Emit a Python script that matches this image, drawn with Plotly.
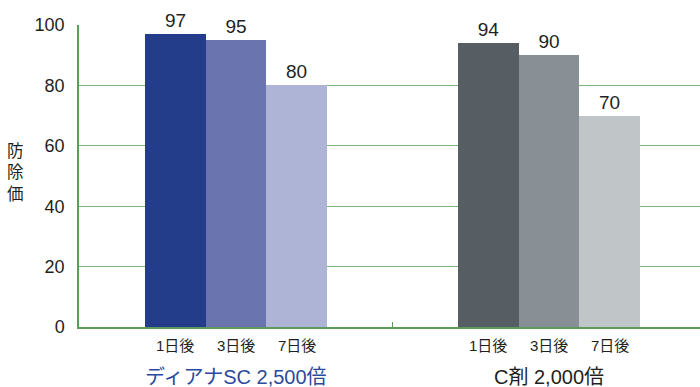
import plotly.graph_objects as go

groups = ["ディアナSC 2,500倍", "C剤 2,000倍"]
days = ["1日後", "3日後", "7日後"]
values = [[97, 95, 80], [94, 90, 70]]
colors = [["#243d8b", "#6a75b0", "#adb4d6"], ["#565e64", "#888f95", "#c0c5c8"]]
group_label_colors = ["#2b4a9b", "#231f20"]
yticks = [0, 20, 40, 60, 80, 100]
ytitle = "防除価"

BAR_W = 0.194  # bar width in group units
FONT = "Liberation Sans, Arial, Noto Sans CJK JP, sans-serif"
GREEN = "#5e9a58"
GRID = "#7db27a"

xs, ys, cs, txt = [], [], [], []
for g, grp in enumerate(groups):
    for i, d in enumerate(days):
        xs.append(g + (i - 1) * BAR_W)
        ys.append(values[g][i])
        cs.append(colors[g][i])
        txt.append(str(values[g][i]))

fig = go.Figure(go.Bar(
    x=xs, y=ys, width=BAR_W, marker=dict(color=cs, line=dict(width=0)),
    text=txt, textposition="outside", cliponaxis=False,
    textfont=dict(family=FONT, size=19, color="#231f20"),
))

annotations = []
for g, grp in enumerate(groups):
    for i, d in enumerate(days):
        annotations.append(dict(
            x=g + (i - 1) * BAR_W, y=0, xref="x", yref="y", text=d,
            showarrow=False, yanchor="middle", yshift=-18,
            font=dict(family=FONT, size=15, color="#231f20")))
    annotations.append(dict(
        x=g, y=0, xref="x", yref="y", text=grp, showarrow=False,
        yanchor="middle", yshift=-50,
        font=dict(family=FONT, size=20, color=group_label_colors[g])))
annotations.append(dict(
    xref="paper", yref="paper", x=(15 - 79) / 621, y=(327 - 173) / 302,
    xanchor="center", yanchor="middle", text="<br>".join(ytitle),
    showarrow=False, font=dict(family=FONT, size=16.5, color="#231f20")))

fig.update_layout(
    width=700, height=387,
    margin=dict(l=79, r=0, t=25, b=60),
    paper_bgcolor="white", plot_bgcolor="white",
    showlegend=False, bargap=0,
    annotations=annotations,
    xaxis=dict(range=[-0.5016, 1.482], showgrid=False, zeroline=False,
               showline=True, linecolor=GREEN, linewidth=1.5,
               tickmode="array", tickvals=[0.5], ticktext=[""],
               ticks="inside", ticklen=5, tickcolor=GREEN, tickwidth=1),
    yaxis=dict(range=[0, 100], tickmode="array", tickvals=yticks,
               showgrid=True, gridcolor=GRID, gridwidth=1.2, zeroline=False,
               showline=True, linecolor=GREEN, linewidth=1.5,
               ticks="", ticklabelstandoff=9,
               tickfont=dict(family=FONT, size=18, color="#231f20")),
)

fig.write_html("out.html")
